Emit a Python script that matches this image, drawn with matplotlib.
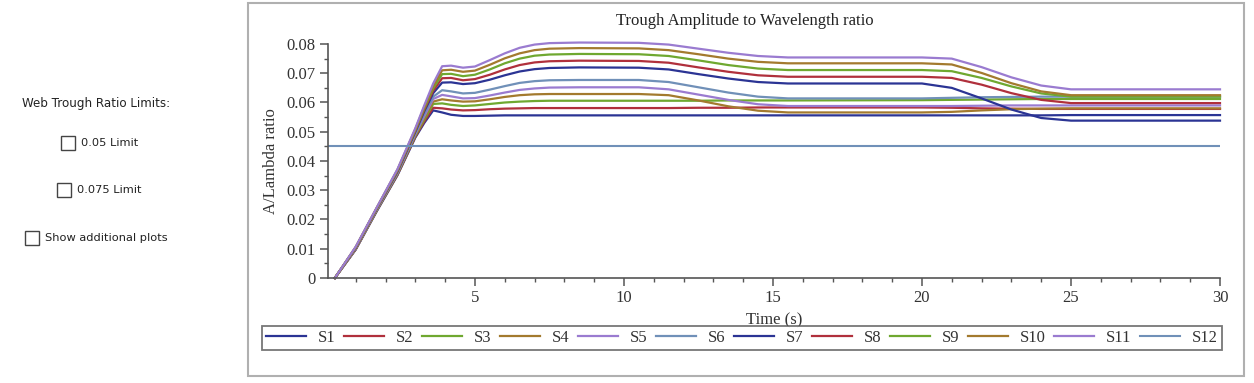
import matplotlib
matplotlib.use("Agg")
import matplotlib.pyplot as plt
from matplotlib.patches import Rectangle

# time grid shared by the 11 simulated series (s)
t = [0.3, 1.0, 1.7, 2.4, 3.0, 3.3, 3.6, 3.9, 4.2, 4.6, 5.0, 5.5, 6.0, 6.5, 7.0, 7.5,
     8.5, 10.5, 11.5, 12.5, 13.5, 14.5, 15.5, 20.0, 21.0, 22.0, 23.0, 24.0, 25.0, 30.0]

s1 = [0, .0097, .0227, .0351, .0480, .0530, .0573, .0566, .0558, .0554, .0554, .0555, .0556, .0556, .0556,
      .0556, .0556, .0556, .0556, .0556, .0556, .0556, .0556, .0556, .0556, .0556, .0556, .0556, .0557, .0557]
s2 = [0, .0098, .0229, .0353, .0483, .0535, .0582, .0580, .0576, .0573, .0574, .0577, .0579, .0580, .0581,
      .0581, .0581, .0581, .0581, .0582, .0582, .0583, .0583, .0583, .0582, .0580, .0579, .0578, .0578, .0578]
s3 = [0, .0099, .0230, .0355, .0486, .0541, .0595, .0597, .0592, .0588, .0590, .0595, .0600, .0603, .0605,
      .0606, .0606, .0606, .0606, .0606, .0607, .0607, .0607, .0608, .0609, .0610, .0611, .0612, .0612, .0612]
s4 = [0, .0100, .0232, .0357, .0489, .0547, .0603, .0611, .0607, .0603, .0604, .0611, .0619, .0625, .0628,
      .0629, .0629, .0629, .0625, .0607, .0587, .0572, .0566, .0566, .0568, .0573, .0577, .0579, .0580, .0580]
s5 = [0, .0101, .0233, .0359, .0492, .0553, .0612, .0626, .0621, .0614, .0615, .0624, .0634, .0643, .0648,
      .0651, .0652, .0652, .0645, .0627, .0609, .0594, .0588, .0588, .0588, .0589, .0590, .0590, .0590, .0590]
s6 = [0, .0102, .0234, .0361, .0495, .0560, .0620, .0642, .0638, .0631, .0633, .0644, .0656, .0667, .0673,
      .0676, .0677, .0677, .0670, .0652, .0634, .0620, .0614, .0614, .0616, .0618, .0619, .0620, .0620, .0620]
s7 = [0, .0103, .0236, .0364, .0500, .0570, .0632, .0668, .0669, .0663, .0666, .0678, .0693, .0706, .0714,
      .0718, .0720, .0719, .0713, .0697, .0682, .0670, .0665, .0665, .0650, .0614, .0576, .0547, .0538, .0538]
s8 = [0, .0104, .0237, .0366, .0503, .0575, .0640, .0683, .0684, .0676, .0680, .0695, .0713, .0728, .0737,
      .0741, .0743, .0742, .0736, .0720, .0705, .0693, .0688, .0688, .0684, .0661, .0632, .0609, .0598, .0598]
s9 = [0, .0105, .0238, .0368, .0506, .0580, .0648, .0697, .0698, .0690, .0695, .0713, .0734, .0750, .0760,
      .0764, .0766, .0765, .0759, .0744, .0728, .0716, .0711, .0711, .0707, .0684, .0655, .0631, .0620, .0620]
s10 = [0, .0106, .0239, .0370, .0509, .0585, .0656, .0710, .0712, .0705, .0709, .0729, .0751, .0768, .0779,
       .0784, .0786, .0785, .0779, .0765, .0750, .0739, .0734, .0734, .0730, .0701, .0666, .0638, .0625, .0625]
s11 = [0, .0107, .0240, .0372, .0512, .0590, .0665, .0724, .0726, .0719, .0723, .0745, .0768, .0787, .0798,
       .0803, .0805, .0804, .0798, .0784, .0770, .0759, .0754, .0754, .0750, .0721, .0686, .0658, .0645, .0645]

# S12 is the flat limit line
t12 = [0.07, 30.0]
s12 = [0.045, 0.045]

labels = ["S%d" % i for i in range(1, 13)]
colors = ["#2b3494", "#b0303c", "#6fa830", "#a37a2e", "#9a7bd0", "#7090b8"] * 2
series = [s1, s2, s3, s4, s5, s6, s7, s8, s9, s10, s11]

fig = plt.figure(figsize=(12.54, 3.83), dpi=100)
ax = fig.add_axes([328 / 1254, 1 - 278 / 383, 892 / 1254, 234 / 383])

for i, s in enumerate(series):
    ax.plot(t, s, color=colors[i], lw=1.6, label=labels[i], clip_on=False,
            solid_joinstyle="round")
ax.plot(t12, s12, color=colors[11], lw=1.5, label=labels[11])

serif = "Liberation Serif"
ax.set_xlim(0.07, 30)
ax.set_ylim(0, 0.08)
ax.set_xticks([5, 10, 15, 20, 25, 30])
ax.set_xticks(range(1, 30), minor=True)
ax.set_yticks([0, 0.01, 0.02, 0.03, 0.04, 0.05, 0.06, 0.07, 0.08])
ax.set_yticklabels(["0", "0.01", "0.02", "0.03", "0.04", "0.05", "0.06", "0.07", "0.08"])
ax.set_yticks([0.005 + 0.01 * k for k in range(8)], minor=True)
for sp in ["top", "right"]:
    ax.spines[sp].set_visible(False)
for sp in ["left", "bottom"]:
    ax.spines[sp].set_color("#555555")
    ax.spines[sp].set_linewidth(1.2)
ax.tick_params(which="major", length=6, width=1.1, color="#555555", labelsize=12, pad=3)
ax.tick_params(which="minor", length=3, width=1.0, color="#555555")
for lab in ax.get_xticklabels() + ax.get_yticklabels():
    lab.set_family(serif)
    lab.set_color("#333333")

ax.set_ylabel("A/Lambda ratio", family=serif, fontsize=12, color="#333333", labelpad=5)
ax.set_xlabel("Time (s)", family=serif, fontsize=12, color="#333333", labelpad=4)
fig.text(745 / 1254, 1 - 21 / 383, "Trough Amplitude to Wavelength ratio", family=serif,
         fontsize=12, color="#222222", ha="center", va="center")

# outer panel frame
fig.patches.append(Rectangle((248 / 1254, 1 - 376 / 383), 996 / 1254, 373 / 383,
                             transform=fig.transFigure, fill=False, ec="#b0b0b0", lw=1.5))

leg = fig.legend(loc="lower left", bbox_to_anchor=(262 / 1254, 1 - 350 / 383, 960 / 1254, 25 / 383),
                 mode="expand", ncol=12, borderaxespad=0, fancybox=False, handlelength=2.4,
                 handletextpad=0.7, columnspacing=0.8, borderpad=0.25,
                 prop={"family": serif, "size": 12})
leg.get_frame().set_edgecolor("#555555")
leg.get_frame().set_linewidth(1.3)
for txt in leg.get_texts():
    txt.set_color("#333333")

# left-hand control panel
sans = "DejaVu Sans"
fig.text(22 / 1254, 1 - 103 / 383, "Web Trough Ratio Limits:", family=sans, fontsize=8.6,
         color="#222222", va="center")
boxes = [(61, 143, "0.05 Limit"), (57, 190, "0.075 Limit"), (25, 238, "Show additional plots")]
for bx, by, txt in boxes:
    fig.patches.append(Rectangle((bx / 1254, 1 - (by + 7) / 383), 14 / 1254, 14 / 383,
                                 transform=fig.transFigure, fill=False, ec="#444444", lw=1.0))
    fig.text((bx + 20) / 1254, 1 - by / 383, txt, family=sans, fontsize=8.2,
             color="#222222", va="center")

fig.savefig("out.png", dpi=100)
